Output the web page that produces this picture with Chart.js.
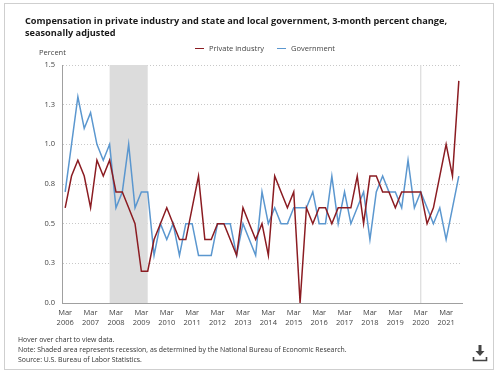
<!DOCTYPE html>
<html>
<head>
<meta charset="utf-8">
<script src="https://cdn.jsdelivr.net/npm/chart.js@4"></script>
<style>
  html, body { margin: 0; padding: 0; background: #fff; }
  body { width: 500px; height: 377px; position: relative; overflow: hidden; font-family: "Open Sans", sans-serif; }
  #frame { position: absolute; left: 4px; top: 3px; width: 490px; height: 367px; border: 1px solid #cfcfcf; box-sizing: border-box; }
  #chart { position: absolute; left: 0; top: 0; }
  .t { position: absolute; white-space: nowrap; color: #222; }
  #title { left: 25px; top: 15px; font-size: 9.2px; font-weight: bold; line-height: 12px; color: #1a1a1a; }
  #ylab { left: 39px; top: 47px; font-size: 7.5px; color: #444; }
  #legend { left: 195px; top: 43px; font-size: 7.5px; color: #444; }
  #legend span.sw { display: inline-block; width: 9px; height: 0; border-top: 1.5px solid; vertical-align: middle; margin-right: 5px; position: relative; top: -1px; }
  #legend span.it { margin-right: 13px; }
  #foot { left: 18px; top: 335px; font-size: 6.9px; line-height: 10px; color: #333; }
  #dl { position: absolute; left: 472px; top: 344px; }
</style>
</head>
<body>
<div id="frame"></div>
<canvas id="chart" width="500" height="377"></canvas>
<div class="t" id="title">Compensation in private industry and state and local government, 3-month percent change,<br>seasonally adjusted</div>
<div class="t" id="ylab">Percent</div>
<div class="t" id="legend"><span class="it"><span class="sw" style="border-color:#8b1c22"></span>Private industry</span><span class="it"><span class="sw" style="border-color:#5b97cf"></span>Government</span></div>
<div class="t" id="foot">Hover over chart to view data.<br>Note: Shaded area represents recession, as determined by the National Bureau of Economic Research.<br>Source: U.S. Bureau of Labor Statistics.</div>
<svg id="dl" width="16" height="20" viewBox="0 0 16 20">
  <path d="M6.5 1 h3 v6 h3 l-4.5 5 l-4.5 -5 h3 z" fill="#444"/>
  <path d="M1.5 13 v3.5 h13 v-3.5" fill="none" stroke="#444" stroke-width="1.6"/>
</svg>
<script>
const categories = [
  "Mar 2006","Jun 2006","Sep 2006","Dec 2006",
  "Mar 2007","Jun 2007","Sep 2007","Dec 2007",
  "Mar 2008","Jun 2008","Sep 2008","Dec 2008",
  "Mar 2009","Jun 2009","Sep 2009","Dec 2009",
  "Mar 2010","Jun 2010","Sep 2010","Dec 2010",
  "Mar 2011","Jun 2011","Sep 2011","Dec 2011",
  "Mar 2012","Jun 2012","Sep 2012","Dec 2012",
  "Mar 2013","Jun 2013","Sep 2013","Dec 2013",
  "Mar 2014","Jun 2014","Sep 2014","Dec 2014",
  "Mar 2015","Jun 2015","Sep 2015","Dec 2015",
  "Mar 2016","Jun 2016","Sep 2016","Dec 2016",
  "Mar 2017","Jun 2017","Sep 2017","Dec 2017",
  "Mar 2018","Jun 2018","Sep 2018","Dec 2018",
  "Mar 2019","Jun 2019","Sep 2019","Dec 2019",
  "Mar 2020","Jun 2020","Sep 2020","Dec 2020",
  "Mar 2021","Jun 2021","Sep 2021"
];
const privateIndustry = [
  0.6,0.8,0.9,0.8, 0.6,0.9,0.8,0.9, 0.7,0.7,0.6,0.5, 0.2,0.2,0.4,0.5,
  0.6,0.5,0.4,0.4, 0.6,0.8,0.4,0.4, 0.5,0.5,0.4,0.3, 0.6,0.5,0.4,0.5,
  0.3,0.8,0.7,0.6, 0.7,0.0,0.6,0.5, 0.6,0.6,0.5,0.6, 0.6,0.6,0.8,0.5,
  0.8,0.8,0.7,0.7, 0.6,0.7,0.7,0.7, 0.7,0.5,0.6,0.8, 1.0,0.8,1.4
];
const government = [
  0.7,1.0,1.3,1.1, 1.2,1.0,0.9,1.0, 0.6,0.7,1.0,0.6, 0.7,0.7,0.3,0.5,
  0.4,0.5,0.3,0.5, 0.5,0.3,0.3,0.3, 0.5,0.5,0.5,0.3, 0.5,0.4,0.3,0.7,
  0.5,0.6,0.5,0.5, 0.6,0.6,0.6,0.7, 0.5,0.5,0.8,0.5, 0.7,0.5,0.6,0.7,
  0.4,0.7,0.8,0.7, 0.7,0.6,0.9,0.6, 0.7,0.6,0.5,0.6, 0.4,0.6,0.8
];
const recessionStarts = ["Dec 2007", "Mar 2020"];
const recessionEnds   = ["Jun 2009", "Mar 2020"];
const yMin = 0, yMax = 1.5, yStep = 0.25;

const recessionPlugin = {
  id: 'recession',
  beforeDatasetsDraw(chart) {
    const {ctx, chartArea, scales} = chart;
    ctx.save();
    ctx.fillStyle = '#dcdcdc';
    for (let i = 0; i < recessionStarts.length; i++) {
      const x1 = scales.x.getPixelForValue(categories.indexOf(recessionStarts[i]));
      const x2 = scales.x.getPixelForValue(categories.indexOf(recessionEnds[i]));
      const w = Math.max(x2 - x1, 1.2);
      ctx.fillRect(x1 - (x2 - x1 < 1.2 ? 0.6 : 0), chartArea.top, w, chartArea.bottom - chartArea.top);
    }
    ctx.restore();
  }
};

new Chart(document.getElementById('chart'), {
  type: 'line',
  data: {
    labels: categories,
    datasets: [
      { label: 'Private industry', data: privateIndustry, borderColor: '#8b1c22', backgroundColor: '#8b1c22', borderWidth: 1.5, pointRadius: 0, tension: 0 },
      { label: 'Government', data: government, borderColor: '#5b97cf', backgroundColor: '#5b97cf', borderWidth: 1.5, pointRadius: 0, tension: 0 }
    ]
  },
  options: {
    responsive: false,
    animation: false,
    devicePixelRatio: 1,
    layout: { padding: { top: 65, right: 38, left: 0, bottom: 0 } },
    plugins: { legend: { display: false }, title: { display: false }, tooltip: { enabled: false } },
    scales: {
      x: {
        type: 'category',
        offset: true,
        grid: { display: false, drawTicks: false },
        border: { display: true, color: '#a0a0a0', width: 1 },
        ticks: {
          autoSkip: false, maxRotation: 0, minRotation: 0, padding: 5,
          color: '#444', font: { family: 'Open Sans', size: 7.5, lineHeight: 1.35 },
          callback: function(v, i) {
            const lab = categories[i];
            return lab.startsWith('Mar') ? lab.split(' ') : '';
          }
        },
        afterFit(scale) { scale.height = 74; }
      },
      y: {
        min: yMin, max: yMax,
        grid: { color: '#c8c8c8', drawTicks: false, lineWidth: 1 },
        border: { display: true, color: '#a0a0a0', width: 1, dash: [1, 2] },
        ticks: {
          stepSize: yStep, padding: 7,
          color: '#444', font: { family: 'Open Sans', size: 7.5 },
          callback: v => Number(v).toFixed(1)
        },
        afterFit(scale) { scale.width = 62; }
      }
    }
  },
  plugins: [recessionPlugin]
});
</script>
</body>
</html>
